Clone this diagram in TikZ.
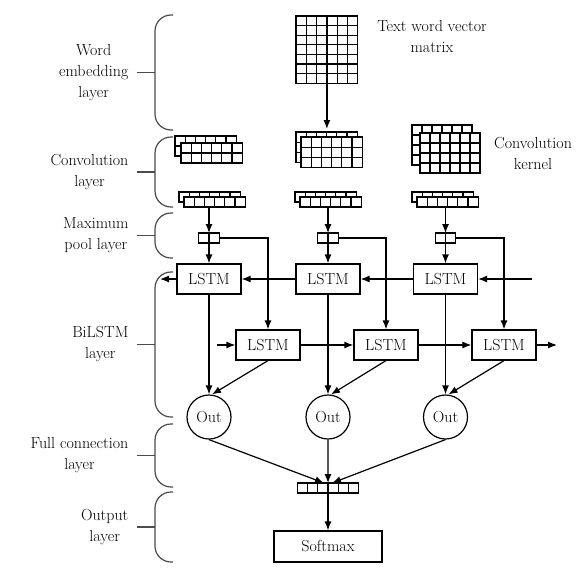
\documentclass[tikz,border=0pt]{standalone}
\usepackage{fontspec}
\usepackage{tikz}
\usetikzlibrary{arrows.meta,calc}

\tikzset{
  cellbox/.style={draw,fill=white,inner sep=0pt,outer sep=0pt},
  lstm/.style={draw,fill=white,minimum width=64pt,minimum height=30pt,inner sep=0pt},
  outnode/.style={draw,circle,minimum size=44pt,inner sep=0pt},
  layerlab/.style={align=center,anchor=east,inner sep=0pt},
  brace/.style={black!70},
  flow/.style={-{Latex[length=9pt,width=7pt]}},
}

% name, x, y (north west), cols, rows, cell width, cell height
\newcommand{\cellgrid}[7]{%
  \node[cellbox,minimum width=#4*#6pt,minimum height=#5*#7pt,anchor=north west] (#1) at (#2,#3) {};
  \pgfmathtruncatemacro{\ncol}{#4-1}%
  \pgfmathtruncatemacro{\nrow}{#5-1}%
  \ifnum\ncol>0 \foreach \k in {1,...,\ncol} {\draw (#1.north west) ++(\k*#6,0) -- ++(0,#5*#7);}\fi
  \ifnum\nrow>0 \foreach \k in {1,...,\nrow} {\draw (#1.north west) ++(0,\k*#7) -- ++(#4*#6,0);}\fi
}

\begin{document}
\begin{tikzpicture}[x=1pt,y=-1pt,line width=1.2pt,font=\fontsize{16}{21}\selectfont]
\useasboundingbox (0,0) rectangle (588,573);
% ==========================================
% word embedding
\cellgrid{emb}{296}{16}{6}{7}{10.3}{9.6}
\node (embtxt) at (432,37) [align=center] {Text word vector\\matrix};
% convolution
\cellgrid{convaback}{175}{136}{6}{2}{10.2}{10}
\cellgrid{conva}{181}{143}{6}{2}{10.2}{10}
\cellgrid{convbback}{296}{132}{6}{3}{10.2}{10.2}
\cellgrid{convb}{301}{137}{6}{3}{10.2}{10.2}
\cellgrid{convcback}{412}{125}{6}{4}{10}{10}
\cellgrid{convc}{420}{133}{6}{4}{10}{10}
\node (kertxt) at (533,153) [align=center] {Convolution\\kernel};
% feature maps
\cellgrid{featback}{179}{192}{6}{1}{10.2}{10}
\cellgrid{feata}{184}{197}{6}{1}{10.2}{10}
\cellgrid{featbback}{295}{192}{6}{1}{10.2}{10}
\cellgrid{featb}{300}{197}{6}{1}{10.2}{10}
\cellgrid{featcback}{412}{192}{6}{1}{10.2}{10}
\cellgrid{featc}{417}{197}{6}{1}{10.2}{10}
% max pool
\cellgrid{poola}{198.7}{233}{2}{1}{10.3}{10}
\cellgrid{poolb}{317.7}{233}{2}{1}{10.3}{10}
\cellgrid{poolc}{435.2}{233}{2}{1}{10.3}{10}
% BiLSTM
\node[lstm] (bwda) at (209,279) {LSTM};
\node[lstm] (bwdb) at (328,279) {LSTM};
\node[lstm] (bwdc) at (445.5,279) {LSTM};
\node[lstm] (fwda) at (268,345) {LSTM};
\node[lstm] (fwdb) at (386,345) {LSTM};
\node[lstm] (fwdc) at (504,345) {LSTM};
\coordinate (bwdin) at (532,279);
\coordinate (bwdout) at (160,279);
\coordinate (fwdin) at (217,345);
\coordinate (fwdout) at (557,345);
\node[outnode] (outa) at (209,417) {Out};
\node[outnode] (outb) at (328,417) {Out};
\node[outnode] (outc) at (445.5,417) {Out};
% full connection, output
\cellgrid{fc}{297.4}{483}{6}{1}{10.2}{10}
\node[draw,minimum width=108pt,minimum height=31pt,inner sep=0pt] (soft) at (328,546.5) {Softmax};
% =============================================
\draw[flow,shorten >=3pt] (emb.south) -- (emb.south |- convbback.north);
\foreach \c in {a,b,c} {
  \draw[flow] (pool\c.north |- feat\c.south) -- (pool\c.north);
  \draw[flow] (pool\c.south) -- (bwd\c.north);
  \draw[flow] (pool\c.east) -| (fwd\c.north);
  \draw[flow] (bwd\c.south) -- (out\c.north);
  \draw[flow] (fwd\c.south) -- ([xshift=3pt]out\c.north);
}
\draw[flow] (bwdin) -- (bwdc);
\draw[flow] (bwdc) -- (bwdb);
\draw[flow] (bwdb) -- (bwda);
\draw[flow] (bwda) -- (bwdout);
\draw[flow] (fwdin) -- (fwda);
\draw[flow] (fwda) -- (fwdb);
\draw[flow] (fwdb) -- (fwdc);
\draw[flow] (fwdc) -- (fwdout);
\draw[flow] (outa.south) -- ([xshift=-4pt]fc.north);
\draw[flow] (outb) -- (fc.north);
\draw[flow] (outc.south) -- ([xshift=4pt]fc.north);
\draw[flow] (fc.south) -- (fc.south |- soft.north);
% =============================================
% layer braces
\foreach \yt/\yb/\lab [count=\i] in {15/130/{Word\\embedding\\layer},
  137/207/{Convolution\\layer}, 213/258/{Maximum\\pool layer},
  272/417/{BiLSTM\\layer}, 424/487/{Full connection\\layer},
  492/562/{Output\\layer}} {
  \draw[brace] plot [rounded corners=16pt] coordinates {(173,\yt)(155,\yt)(155,\yb)(173,\yb)};
  \draw[brace] (137,{(\yt+\yb)/2}) -- (155,{(\yt+\yb)/2});
  \node[layerlab] (lab\i) at (129,{(\yt+\yb)/2}) {\lab};
}
\end{tikzpicture}
\end{document}
